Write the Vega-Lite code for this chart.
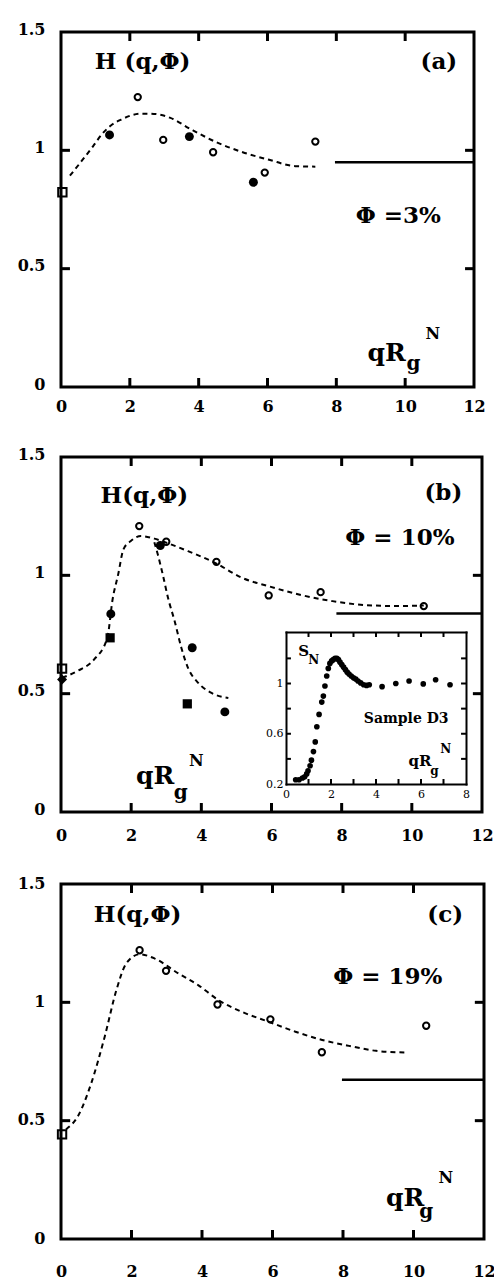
{
  "$schema": "https://vega.github.io/schema/vega-lite/v6.json",
  "padding": {"left": 15, "top": 19, "right": 0, "bottom": 0},
  "spacing": 28,
  "config": {
    "font": "DejaVu Serif",
    "view": {"stroke": "black", "strokeWidth": 3},
    "axis": {
      "labelFont": "DejaVu Serif", "labelFontWeight": "bold", "labelFontSize": 16, "labelColor": "black",
      "ticks": false, "domain": false, "grid": false, "title": null,
      "labelFlush": false, "labelOverlap": false, "labelBound": false, "domainCap": "square", "domainColor": "black"
    },
    "text": {"font": "DejaVu Serif", "fontWeight": "bold", "color": "black", "align": "center", "baseline": "middle"}
  },
  "datasets": {
    "mticks": [
      {"id": "b2", "x": 2, "y": 0}, {"id": "b2", "x": 2, "y": 0.038},
      {"id": "b4", "x": 4, "y": 0}, {"id": "b4", "x": 4, "y": 0.038},
      {"id": "b6", "x": 6, "y": 0}, {"id": "b6", "x": 6, "y": 0.038},
      {"id": "b8", "x": 8, "y": 0}, {"id": "b8", "x": 8, "y": 0.038},
      {"id": "b10", "x": 10, "y": 0}, {"id": "b10", "x": 10, "y": 0.038},
      {"id": "t2", "x": 2, "y": 1.5}, {"id": "t2", "x": 2, "y": 1.462},
      {"id": "t4", "x": 4, "y": 1.5}, {"id": "t4", "x": 4, "y": 1.462},
      {"id": "t6", "x": 6, "y": 1.5}, {"id": "t6", "x": 6, "y": 1.462},
      {"id": "t8", "x": 8, "y": 1.5}, {"id": "t8", "x": 8, "y": 1.462},
      {"id": "t10", "x": 10, "y": 1.5}, {"id": "t10", "x": 10, "y": 1.462},
      {"id": "l05", "x": 0, "y": 0.5}, {"id": "l05", "x": 0.26, "y": 0.5},
      {"id": "l1", "x": 0, "y": 1}, {"id": "l1", "x": 0.26, "y": 1},
      {"id": "r05", "x": 11.74, "y": 0.5}, {"id": "r05", "x": 12, "y": 0.5},
      {"id": "r1", "x": 11.74, "y": 1}, {"id": "r1", "x": 12, "y": 1}
    ],
    "iticks": [
      {"id": "b1", "x": 1, "y": 0.2}, {"id": "b1", "x": 1, "y": 0.24},
      {"id": "b2", "x": 2, "y": 0.2}, {"id": "b2", "x": 2, "y": 0.24},
      {"id": "b3", "x": 3, "y": 0.2}, {"id": "b3", "x": 3, "y": 0.24},
      {"id": "b4", "x": 4, "y": 0.2}, {"id": "b4", "x": 4, "y": 0.24},
      {"id": "b5", "x": 5, "y": 0.2}, {"id": "b5", "x": 5, "y": 0.24},
      {"id": "b6", "x": 6, "y": 0.2}, {"id": "b6", "x": 6, "y": 0.24},
      {"id": "b7", "x": 7, "y": 0.2}, {"id": "b7", "x": 7, "y": 0.24},
      {"id": "t1", "x": 1, "y": 1.41}, {"id": "t1", "x": 1, "y": 1.37},
      {"id": "t2", "x": 2, "y": 1.41}, {"id": "t2", "x": 2, "y": 1.37},
      {"id": "t3", "x": 3, "y": 1.41}, {"id": "t3", "x": 3, "y": 1.37},
      {"id": "t4", "x": 4, "y": 1.41}, {"id": "t4", "x": 4, "y": 1.37},
      {"id": "t5", "x": 5, "y": 1.41}, {"id": "t5", "x": 5, "y": 1.37},
      {"id": "t6", "x": 6, "y": 1.41}, {"id": "t6", "x": 6, "y": 1.37},
      {"id": "t7", "x": 7, "y": 1.41}, {"id": "t7", "x": 7, "y": 1.37},
      {"id": "l4", "x": 0, "y": 0.4}, {"id": "l4", "x": 0.22, "y": 0.4},
      {"id": "l6", "x": 0, "y": 0.6}, {"id": "l6", "x": 0.22, "y": 0.6},
      {"id": "l8", "x": 0, "y": 0.8}, {"id": "l8", "x": 0.22, "y": 0.8},
      {"id": "l10", "x": 0, "y": 1}, {"id": "l10", "x": 0.22, "y": 1},
      {"id": "l12", "x": 0, "y": 1.2}, {"id": "l12", "x": 0.22, "y": 1.2},
      {"id": "r4", "x": 7.78, "y": 0.4}, {"id": "r4", "x": 8, "y": 0.4},
      {"id": "r6", "x": 7.78, "y": 0.6}, {"id": "r6", "x": 8, "y": 0.6},
      {"id": "r8", "x": 7.78, "y": 0.8}, {"id": "r8", "x": 8, "y": 0.8},
      {"id": "r10", "x": 7.78, "y": 1}, {"id": "r10", "x": 8, "y": 1},
      {"id": "r12", "x": 7.78, "y": 1.2}, {"id": "r12", "x": 8, "y": 1.2}
    ],
    "a_pts": [
      {"x": 0.04, "y": 0.823, "k": "osq"},
      {"x": 1.41, "y": 1.065, "k": "fc"}, {"x": 3.73, "y": 1.058, "k": "fc"}, {"x": 5.59, "y": 0.865, "k": "fc"},
      {"x": 2.23, "y": 1.225, "k": "oc"}, {"x": 2.97, "y": 1.044, "k": "oc"}, {"x": 4.42, "y": 0.992, "k": "oc"},
      {"x": 5.92, "y": 0.906, "k": "oc"}, {"x": 7.39, "y": 1.037, "k": "oc"}
    ],
    "a_curve": [
      {"x": 0.26, "y": 0.893}, {"x": 0.6, "y": 0.955}, {"x": 0.93, "y": 1.017}, {"x": 1.2, "y": 1.07},
      {"x": 1.45, "y": 1.105}, {"x": 1.75, "y": 1.13}, {"x": 2.03, "y": 1.147}, {"x": 2.35, "y": 1.155},
      {"x": 2.7, "y": 1.154}, {"x": 3.18, "y": 1.137}, {"x": 3.75, "y": 1.091}, {"x": 4.52, "y": 1.034},
      {"x": 5.28, "y": 0.992}, {"x": 6.05, "y": 0.96}, {"x": 6.81, "y": 0.933}, {"x": 7.39, "y": 0.931}
    ],
    "a_solid": [{"x": 7.96, "y": 0.95}, {"x": 12, "y": 0.95}],
    "b_pts": [
      {"x": 0.03, "y": 0.606, "k": "osq"}, {"x": 0.03, "y": 0.56, "k": "fd"},
      {"x": 1.4, "y": 0.736, "k": "fsq"}, {"x": 3.6, "y": 0.457, "k": "fsq"},
      {"x": 1.42, "y": 0.837, "k": "fc"}, {"x": 2.83, "y": 1.126, "k": "fc"}, {"x": 3.74, "y": 0.694, "k": "fc"}, {"x": 4.67, "y": 0.423, "k": "fc"},
      {"x": 2.23, "y": 1.208, "k": "oc"}, {"x": 3.0, "y": 1.142, "k": "oc"}, {"x": 4.43, "y": 1.057, "k": "oc"},
      {"x": 5.92, "y": 0.915, "k": "oc"}, {"x": 7.4, "y": 0.929, "k": "oc"}, {"x": 10.34, "y": 0.87, "k": "oc"}
    ],
    "b_curve": [
      {"s": "u", "x": 0.03, "y": 0.567}, {"s": "u", "x": 0.46, "y": 0.595}, {"s": "u", "x": 0.94, "y": 0.644},
      {"s": "u", "x": 1.32, "y": 0.736}, {"s": "u", "x": 1.47, "y": 0.898}, {"s": "u", "x": 1.63, "y": 1.004},
      {"s": "u", "x": 1.78, "y": 1.11}, {"s": "u", "x": 1.99, "y": 1.145}, {"s": "u", "x": 2.28, "y": 1.166},
      {"s": "u", "x": 2.66, "y": 1.155}, {"s": "u", "x": 3.0, "y": 1.138}, {"s": "u", "x": 3.62, "y": 1.102},
      {"s": "u", "x": 4.39, "y": 1.053}, {"s": "u", "x": 5.15, "y": 0.99}, {"s": "u", "x": 5.92, "y": 0.954},
      {"s": "u", "x": 6.78, "y": 0.919}, {"s": "u", "x": 7.74, "y": 0.891}, {"s": "u", "x": 8.7, "y": 0.874},
      {"s": "u", "x": 9.66, "y": 0.87}, {"s": "u", "x": 10.34, "y": 0.873},
      {"s": "d", "x": 2.66, "y": 1.14}, {"s": "d", "x": 2.76, "y": 1.088}, {"s": "d", "x": 2.9, "y": 1.004},
      {"s": "d", "x": 3.05, "y": 0.905}, {"s": "d", "x": 3.24, "y": 0.806}, {"s": "d", "x": 3.43, "y": 0.694},
      {"s": "d", "x": 3.62, "y": 0.609}, {"s": "d", "x": 3.91, "y": 0.546}, {"s": "d", "x": 4.29, "y": 0.503},
      {"s": "d", "x": 4.77, "y": 0.482}
    ],
    "b_solid": [{"x": 7.85, "y": 0.839}, {"x": 12, "y": 0.839}],
    "inset": [
      {"x": 0.43, "y": 0.234}, {"x": 0.58, "y": 0.234}, {"x": 0.73, "y": 0.248}, {"x": 0.83, "y": 0.258},
      {"x": 0.92, "y": 0.28}, {"x": 0.98, "y": 0.305}, {"x": 1.07, "y": 0.345}, {"x": 1.13, "y": 0.39},
      {"x": 1.22, "y": 0.458}, {"x": 1.3, "y": 0.535}, {"x": 1.37, "y": 0.656}, {"x": 1.47, "y": 0.754},
      {"x": 1.59, "y": 0.852}, {"x": 1.66, "y": 0.9}, {"x": 1.73, "y": 0.98}, {"x": 1.81, "y": 1.06},
      {"x": 1.88, "y": 1.12}, {"x": 1.95, "y": 1.16}, {"x": 2.03, "y": 1.18}, {"x": 2.1, "y": 1.19},
      {"x": 2.18, "y": 1.2}, {"x": 2.26, "y": 1.2}, {"x": 2.33, "y": 1.19}, {"x": 2.4, "y": 1.17},
      {"x": 2.48, "y": 1.15}, {"x": 2.56, "y": 1.13}, {"x": 2.64, "y": 1.11}, {"x": 2.72, "y": 1.09},
      {"x": 2.8, "y": 1.075}, {"x": 2.9, "y": 1.06}, {"x": 3.0, "y": 1.045}, {"x": 3.1, "y": 1.035},
      {"x": 3.2, "y": 1.02}, {"x": 3.32, "y": 1.005}, {"x": 3.45, "y": 0.99}, {"x": 3.58, "y": 0.985},
      {"x": 3.7, "y": 0.99}, {"x": 4.27, "y": 0.975}, {"x": 4.88, "y": 1.0}, {"x": 5.47, "y": 1.02},
      {"x": 6.1, "y": 0.997}, {"x": 6.65, "y": 1.03}, {"x": 7.29, "y": 0.99}
    ],
    "c_pts": [
      {"x": 0.03, "y": 0.442, "k": "osq"},
      {"x": 2.23, "y": 1.22, "k": "oc"}, {"x": 2.98, "y": 1.133, "k": "oc"}, {"x": 4.44, "y": 0.991, "k": "oc"},
      {"x": 5.94, "y": 0.928, "k": "oc"}, {"x": 7.4, "y": 0.789, "k": "oc"}, {"x": 10.36, "y": 0.901, "k": "oc"}
    ],
    "c_curve": [
      {"x": 0.14, "y": 0.463}, {"x": 0.48, "y": 0.519}, {"x": 0.86, "y": 0.659}, {"x": 1.24, "y": 0.855},
      {"x": 1.57, "y": 1.051}, {"x": 1.85, "y": 1.164}, {"x": 2.23, "y": 1.203}, {"x": 2.66, "y": 1.185},
      {"x": 3.33, "y": 1.122}, {"x": 3.9, "y": 1.072}, {"x": 4.47, "y": 1.009}, {"x": 5.13, "y": 0.96},
      {"x": 5.89, "y": 0.918}, {"x": 6.65, "y": 0.876}, {"x": 7.41, "y": 0.841}, {"x": 8.17, "y": 0.816},
      {"x": 8.94, "y": 0.795}, {"x": 9.74, "y": 0.788}
    ],
    "c_solid": [{"x": 7.97, "y": 0.673}, {"x": 12, "y": 0.673}]
  },
  "vconcat": [
    {
      "width": 413, "height": 355,
      "layer": [
        {"data": {"name": "a_curve"}, "mark": {"type": "line", "interpolate": "monotone", "strokeDash": [5, 4], "strokeWidth": 2, "color": "black"},
         "encoding": {
           "x": {"field": "x", "type": "quantitative", "scale": {"domain": [0, 12], "nice": false, "zero": false}, "axis": {"orient": "bottom", "values": [0, 2, 4, 6, 8, 10, 12], "format": "d", "labelPadding": 11}},
           "y": {"field": "y", "type": "quantitative", "scale": {"domain": [0, 1.5], "nice": false, "zero": false}, "axis": {"orient": "left", "values": [0, 0.5, 1, 1.5], "format": "~g", "labelPadding": 16, "labelOffset": -3}}}},
        {"data": {"name": "mticks"}, "mark": {"type": "line", "strokeWidth": 3, "color": "black", "strokeCap": "butt"},
         "encoding": {"detail": {"field": "id"}, "x": {"field": "x", "type": "quantitative"}, "y": {"field": "y", "type": "quantitative"}}},
        {"data": {"name": "a_solid"}, "mark": {"type": "line", "strokeWidth": 2.5, "color": "black"},
         "encoding": {"x": {"field": "x", "type": "quantitative"}, "y": {"field": "y", "type": "quantitative"}}},
        {"data": {"name": "a_pts"}, "transform": [{"filter": "datum.k === 'fc'"}], "mark": {"type": "point", "shape": "circle", "filled": true, "size": 80, "color": "black", "opacity": 1},
         "encoding": {"x": {"field": "x", "type": "quantitative"}, "y": {"field": "y", "type": "quantitative"}}},
        {"data": {"name": "a_pts"}, "transform": [{"filter": "datum.k === 'oc'"}], "mark": {"type": "point", "shape": "circle", "filled": false, "size": 40, "strokeWidth": 2, "color": "black", "opacity": 1},
         "encoding": {"x": {"field": "x", "type": "quantitative"}, "y": {"field": "y", "type": "quantitative"}}},
        {"data": {"name": "a_pts"}, "transform": [{"filter": "datum.k === 'osq'"}], "mark": {"type": "point", "shape": "square", "filled": false, "size": 70, "strokeWidth": 2, "color": "black", "opacity": 1},
         "encoding": {"x": {"field": "x", "type": "quantitative"}, "y": {"field": "y", "type": "quantitative"}}},
        {"data": {"values": [{"x": 2.37, "y": 1.373, "t": "H (q,Φ)"}, {"x": 10.98, "y": 1.373, "t": "(a)"}, {"x": 9.8, "y": 0.724, "t": "Φ =3%"}]},
         "mark": {"type": "text", "fontSize": 23},
         "encoding": {"x": {"field": "x", "type": "quantitative"}, "y": {"field": "y", "type": "quantitative"}, "text": {"field": "t"}}},
        {"data": {"values": [{"x": 9.46, "y": 0.145, "t": "qR"}]}, "mark": {"type": "text", "fontSize": 25},
         "encoding": {"x": {"field": "x", "type": "quantitative"}, "y": {"field": "y", "type": "quantitative"}, "text": {"field": "t"}}},
        {"data": {"values": [{"x": 10.24, "y": 0.096, "t": "g"}]}, "mark": {"type": "text", "fontSize": 20},
         "encoding": {"x": {"field": "x", "type": "quantitative"}, "y": {"field": "y", "type": "quantitative"}, "text": {"field": "t"}}},
        {"data": {"values": [{"x": 10.8, "y": 0.223, "t": "N"}]}, "mark": {"type": "text", "fontSize": 16},
         "encoding": {"x": {"field": "x", "type": "quantitative"}, "y": {"field": "y", "type": "quantitative"}, "text": {"field": "t"}}}
      ]
    },
    {
      "width": 421, "height": 355,
      "resolve": {"scale": {"x": "independent", "y": "independent"}, "axis": {"x": "independent", "y": "independent"}},
      "layer": [
        {
          "layer": [
            {"data": {"name": "b_curve"}, "mark": {"type": "line", "interpolate": "monotone", "strokeDash": [5, 4], "strokeWidth": 2, "color": "black"},
             "encoding": {
               "detail": {"field": "s"},
               "x": {"field": "x", "type": "quantitative", "scale": {"domain": [0, 12], "nice": false, "zero": false}, "axis": {"orient": "bottom", "values": [0, 2, 4, 6, 8, 10, 12], "format": "d", "labelPadding": 15}},
               "y": {"field": "y", "type": "quantitative", "scale": {"domain": [0, 1.5], "nice": false, "zero": false}, "axis": {"orient": "left", "values": [0, 0.5, 1, 1.5], "format": "~g", "labelPadding": 16, "labelOffset": -3}}}},
            {"data": {"name": "mticks"}, "mark": {"type": "line", "strokeWidth": 3, "color": "black", "strokeCap": "butt"},
             "encoding": {"detail": {"field": "id"}, "x": {"field": "x", "type": "quantitative"}, "y": {"field": "y", "type": "quantitative"}}},
            {"data": {"name": "b_solid"}, "mark": {"type": "line", "strokeWidth": 2.5, "color": "black"},
             "encoding": {"x": {"field": "x", "type": "quantitative"}, "y": {"field": "y", "type": "quantitative"}}},
            {"data": {"name": "b_pts"}, "transform": [{"filter": "datum.k === 'fc'"}], "mark": {"type": "point", "shape": "circle", "filled": true, "size": 80, "color": "black", "opacity": 1},
             "encoding": {"x": {"field": "x", "type": "quantitative"}, "y": {"field": "y", "type": "quantitative"}}},
            {"data": {"name": "b_pts"}, "transform": [{"filter": "datum.k === 'oc'"}], "mark": {"type": "point", "shape": "circle", "filled": false, "size": 40, "strokeWidth": 2, "color": "black", "opacity": 1},
             "encoding": {"x": {"field": "x", "type": "quantitative"}, "y": {"field": "y", "type": "quantitative"}}},
            {"data": {"name": "b_pts"}, "transform": [{"filter": "datum.k === 'osq'"}], "mark": {"type": "point", "shape": "square", "filled": false, "size": 70, "strokeWidth": 2, "color": "black", "opacity": 1},
             "encoding": {"x": {"field": "x", "type": "quantitative"}, "y": {"field": "y", "type": "quantitative"}}},
            {"data": {"name": "b_pts"}, "transform": [{"filter": "datum.k === 'fsq'"}], "mark": {"type": "point", "shape": "square", "filled": true, "size": 85, "color": "black", "opacity": 1},
             "encoding": {"x": {"field": "x", "type": "quantitative"}, "y": {"field": "y", "type": "quantitative"}}},
            {"data": {"name": "b_pts"}, "transform": [{"filter": "datum.k === 'fd'"}], "mark": {"type": "point", "shape": "diamond", "filled": true, "size": 100, "color": "black", "opacity": 1},
             "encoding": {"x": {"field": "x", "type": "quantitative"}, "y": {"field": "y", "type": "quantitative"}}},
            {"data": {"values": [{"x": 2.375, "y": 1.335, "t": "H(q,Φ)"}, {"x": 10.9, "y": 1.349, "t": "(b)"}, {"x": 9.66, "y": 1.159, "t": "Φ = 10%"}]},
             "mark": {"type": "text", "fontSize": 23},
             "encoding": {"x": {"field": "x", "type": "quantitative"}, "y": {"field": "y", "type": "quantitative"}, "text": {"field": "t"}}},
            {"data": {"values": [{"x": 2.68, "y": 0.151, "t": "qR"}]}, "mark": {"type": "text", "fontSize": 25},
             "encoding": {"x": {"field": "x", "type": "quantitative"}, "y": {"field": "y", "type": "quantitative"}, "text": {"field": "t"}}},
            {"data": {"values": [{"x": 3.41, "y": 0.08, "t": "g"}]}, "mark": {"type": "text", "fontSize": 20},
             "encoding": {"x": {"field": "x", "type": "quantitative"}, "y": {"field": "y", "type": "quantitative"}, "text": {"field": "t"}}},
            {"data": {"values": [{"x": 3.86, "y": 0.214, "t": "N"}]}, "mark": {"type": "text", "fontSize": 16},
             "encoding": {"x": {"field": "x", "type": "quantitative"}, "y": {"field": "y", "type": "quantitative"}, "text": {"field": "t"}}}
          ]
        },
        {
          "resolve": {"axis": {"x": "independent", "y": "independent"}},
          "layer": [
            {"data": {"name": "inset"}, "mark": {"type": "point", "shape": "circle", "filled": true, "size": 32, "color": "black", "opacity": 1},
             "encoding": {
               "x": {"field": "x", "type": "quantitative", "scale": {"domain": [0, 8], "range": [225, 405], "nice": false, "zero": false},
                     "axis": {"orient": "bottom", "offset": -28, "values": [0, 2, 4, 6, 8], "format": "d",
                              "labelFontWeight": "normal", "labelFontSize": 11, "domain": true, "domainWidth": 2, "labelPadding": 4}},
               "y": {"field": "y", "type": "quantitative", "scale": {"domain": [0.2, 1.41], "range": [327, 175], "nice": false, "zero": false},
                     "axis": {"orient": "left", "offset": -225, "values": [0.2, 0.6, 1], "format": "~g",
                              "labelFontWeight": "normal", "labelFontSize": 11, "domain": true, "domainWidth": 2, "labelPadding": 3}}}},
            {"data": {"name": "iticks"}, "mark": {"type": "line", "strokeWidth": 2, "color": "black", "strokeCap": "butt"},
             "encoding": {"detail": {"field": "id"}, "x": {"field": "x", "type": "quantitative", "axis": null}, "y": {"field": "y", "type": "quantitative", "axis": null}}},
            {"data": {"values": [{"x": 5.34, "y": 0.72, "t": "Sample D3"}]}, "mark": {"type": "text", "fontSize": 14},
             "encoding": {
               "x": {"field": "x", "type": "quantitative", "scale": {"domain": [0, 8], "range": [225, 405], "nice": false, "zero": false},
                     "axis": {"orient": "top", "offset": -175, "values": [0, 8], "labels": false, "domain": true, "domainWidth": 2}},
               "y": {"field": "y", "type": "quantitative", "scale": {"domain": [0.2, 1.41], "range": [327, 175], "nice": false, "zero": false},
                     "axis": {"orient": "right", "offset": -16, "values": [0.2, 1.4], "labels": false, "domain": true, "domainWidth": 2}},
               "text": {"field": "t"}}},
            {"data": {"values": [{"x": 0.78, "y": 1.26, "t": "S"}, {"x": 5.96, "y": 0.385, "t": "qR"}]}, "mark": {"type": "text", "fontSize": 15},
             "encoding": {"x": {"field": "x", "type": "quantitative", "axis": null}, "y": {"field": "y", "type": "quantitative", "axis": null}, "text": {"field": "t"}}},
            {"data": {"values": [{"x": 1.23, "y": 1.19, "t": "N"}, {"x": 6.6, "y": 0.3, "t": "g"}, {"x": 7.1, "y": 0.478, "t": "N"}]}, "mark": {"type": "text", "fontSize": 12},
             "encoding": {"x": {"field": "x", "type": "quantitative", "axis": null}, "y": {"field": "y", "type": "quantitative", "axis": null}, "text": {"field": "t"}}}
          ]
        }
      ]
    },
    {
      "width": 423, "height": 355,
      "layer": [
        {"data": {"name": "c_curve"}, "mark": {"type": "line", "interpolate": "monotone", "strokeDash": [5, 4], "strokeWidth": 2, "color": "black"},
         "encoding": {
           "x": {"field": "x", "type": "quantitative", "scale": {"domain": [0, 12], "nice": false, "zero": false}, "axis": {"orient": "bottom", "values": [0, 2, 4, 6, 8, 10, 12], "format": "d", "labelPadding": 24}},
           "y": {"field": "y", "type": "quantitative", "scale": {"domain": [0, 1.5], "nice": false, "zero": false}, "axis": {"orient": "left", "values": [0, 0.5, 1, 1.5], "format": "~g", "labelPadding": 16, "labelOffset": -1}}}},
        {"data": {"name": "mticks"}, "mark": {"type": "line", "strokeWidth": 3, "color": "black", "strokeCap": "butt"},
         "encoding": {"detail": {"field": "id"}, "x": {"field": "x", "type": "quantitative"}, "y": {"field": "y", "type": "quantitative"}}},
        {"data": {"name": "c_solid"}, "mark": {"type": "line", "strokeWidth": 2.5, "color": "black"},
         "encoding": {"x": {"field": "x", "type": "quantitative"}, "y": {"field": "y", "type": "quantitative"}}},
        {"data": {"name": "c_pts"}, "transform": [{"filter": "datum.k === 'oc'"}], "mark": {"type": "point", "shape": "circle", "filled": false, "size": 40, "strokeWidth": 2, "color": "black", "opacity": 1},
         "encoding": {"x": {"field": "x", "type": "quantitative"}, "y": {"field": "y", "type": "quantitative"}}},
        {"data": {"name": "c_pts"}, "transform": [{"filter": "datum.k === 'osq'"}], "mark": {"type": "point", "shape": "square", "filled": false, "size": 70, "strokeWidth": 2, "color": "black", "opacity": 1},
         "encoding": {"x": {"field": "x", "type": "quantitative"}, "y": {"field": "y", "type": "quantitative"}}},
        {"data": {"values": [{"x": 2.17, "y": 1.367, "t": "H(q,Φ)"}, {"x": 10.9, "y": 1.367, "t": "(c)"}, {"x": 9.27, "y": 1.108, "t": "Φ = 19%"}]},
         "mark": {"type": "text", "fontSize": 23},
         "encoding": {"x": {"field": "x", "type": "quantitative"}, "y": {"field": "y", "type": "quantitative"}, "text": {"field": "t"}}},
        {"data": {"values": [{"x": 9.76, "y": 0.175, "t": "qR"}]}, "mark": {"type": "text", "fontSize": 25},
         "encoding": {"x": {"field": "x", "type": "quantitative"}, "y": {"field": "y", "type": "quantitative"}, "text": {"field": "t"}}},
        {"data": {"values": [{"x": 10.36, "y": 0.112, "t": "g"}]}, "mark": {"type": "text", "fontSize": 20},
         "encoding": {"x": {"field": "x", "type": "quantitative"}, "y": {"field": "y", "type": "quantitative"}, "text": {"field": "t"}}},
        {"data": {"values": [{"x": 10.92, "y": 0.259, "t": "N"}]}, "mark": {"type": "text", "fontSize": 16},
         "encoding": {"x": {"field": "x", "type": "quantitative"}, "y": {"field": "y", "type": "quantitative"}, "text": {"field": "t"}}}
      ]
    }
  ]
}
